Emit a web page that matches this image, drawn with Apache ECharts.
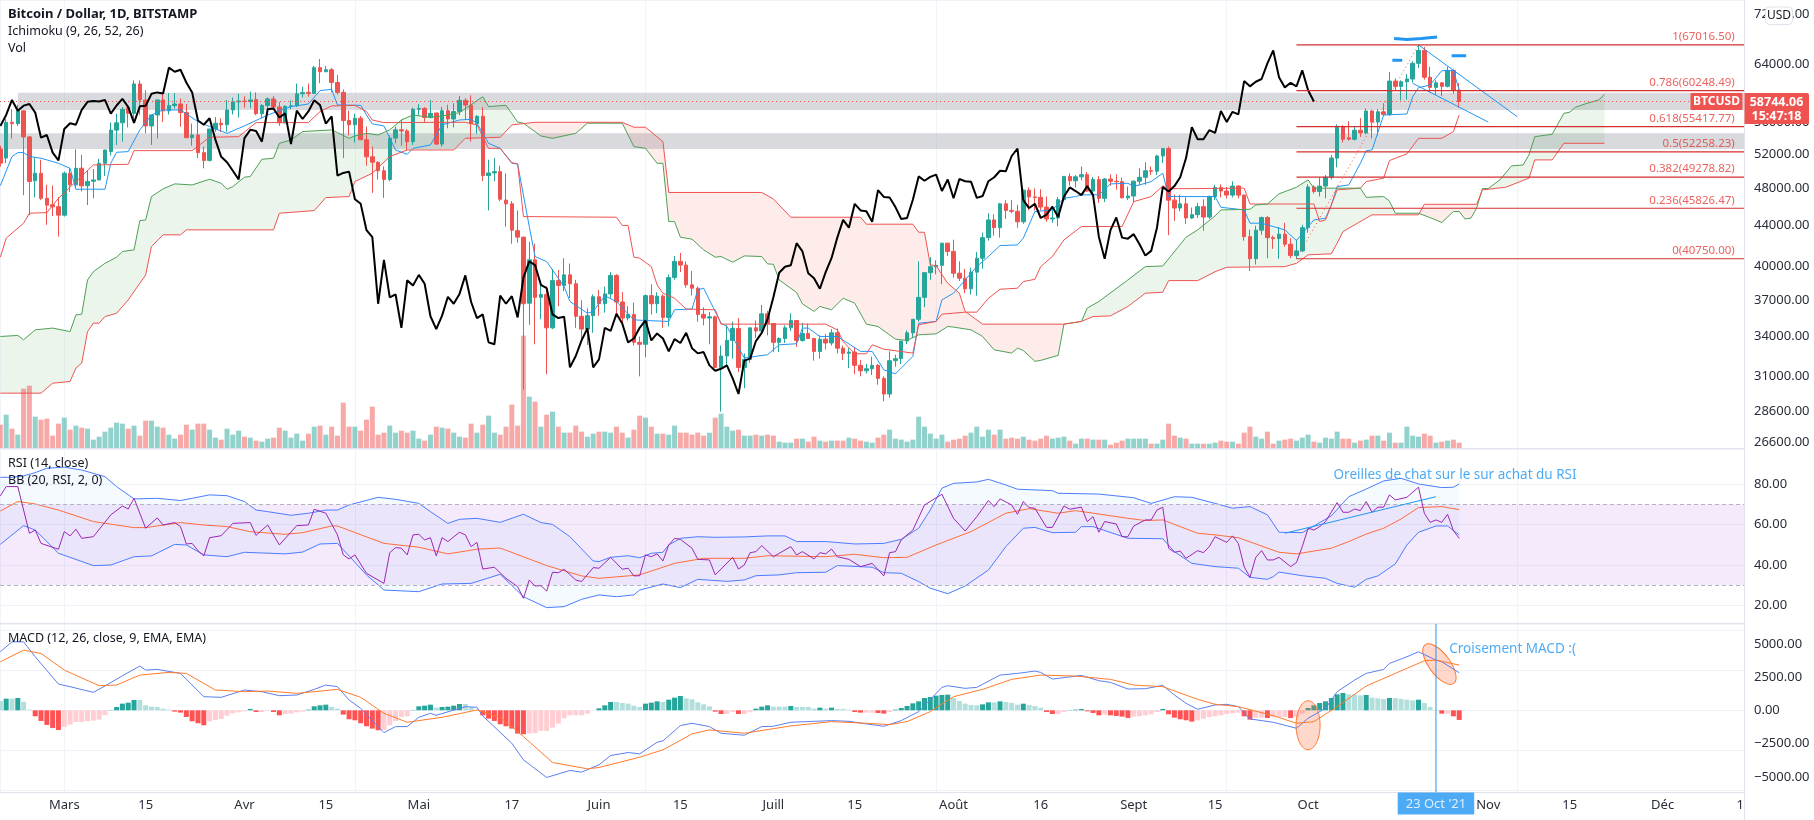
<!DOCTYPE html>
<html>
<head>
<meta charset="utf-8">
<title>BTCUSD</title>
<script src="https://cdn.jsdelivr.net/npm/echarts@6/dist/echarts.min.js"></script>
<style>
  html, body { margin: 0; padding: 0; background: #fff; }
  #chart { width: 1814px; height: 820px; }
</style>
</head>
<body>
<div id="chart"></div>
<script>
// days are counted from 1 Mar 2021, candles run from 18 Feb to 27 Oct
const firstDay = -11;
const opens = [
  52600,51500,55970,55800,57480,54100,48850,49700,46900,46200,46000,
  45100,49700,48400,50300,48300,48800,48950,50880,52300,54960,55900,57920,57150,61190,58950,55500,56930,58950,57480,58180,58400,57250,54000,54340,52150,51220,55100,55850,55650,57600,58700,
  58800,58750,59000,57100,58200,59100,58000,55900,58100,58150,59800,60000,59850,63550,62950,63250,61400,60000,56200,55650,56500,53750,51650,51000,50000,49000,53950,55000,54850,53500,
  57700,57800,56600,57200,53200,57500,56400,57400,58900,58250,55800,56750,49450,49750,49900,46700,46300,43500,42850,36750,40650,37250,37500,34700,38750,38300,39250,38450,35650,34600,35700,
  37300,36700,37550,39200,36850,35500,35800,33550,33400,37400,36700,37350,35550,39000,40500,40150,38350,38050,35800,35500,35600,31650,32500,33700,34650,31650,32250,34700,34450,35850,
  35050,33550,33850,34700,35300,33700,34250,33850,32850,33800,33500,34300,33100,32700,32800,31800,31400,31550,31800,30850,29750,32150,32300,33650,34300,35400,37250,39450,40000,40130,42250,
  41450,39400,38950,38000,39500,40800,42800,44600,43800,46300,45600,45500,44400,47800,47050,47000,45950,44700,44800,46750,49350,48850,49300,49550,47700,49000,46900,49050,48800,48750,46950,
  47150,48800,49250,50000,49950,51750,52650,46700,45850,46300,44800,45150,46000,44900,47100,48100,47700,47250,48250,47250,42900,40750,43550,44850,42800,42700,43150,42150,41050,41500,
  43800,48150,47650,48250,49250,51500,55350,54000,53800,54950,54600,57450,56000,57350,57000,61600,60850,61500,61900,64200,66150,62150,60700,61350,60850,63150,60300
];
const closes = [
  50900,55970,55800,57480,54100,48770,49720,46900,46170,45980,45100,
  49720,48390,50290,48280,48770,48950,50880,52480,54960,55900,57680,57150,61190,58950,55500,56930,58950,57480,58180,58400,57250,54000,54340,52150,51220,55100,55850,55650,57600,58700,58800,
  58750,58950,57100,58200,59100,58000,55900,58100,58150,59800,60000,59850,63550,62950,63250,61400,60000,56200,55650,56500,53750,51650,51000,50000,49000,53950,55000,54850,53500,57700,
  57800,56600,57150,53200,57500,56400,57400,58900,58250,55800,56750,49450,49750,49900,46800,46300,43550,42850,36700,40650,37250,37500,34700,38750,38300,39250,38450,35650,34600,35700,37300,
  36700,37550,39200,36850,35500,35800,33550,33400,37400,36700,37350,35550,39000,40500,40150,38350,38050,35800,35500,35600,31650,32500,33700,34650,31650,32250,34700,34450,35850,35050,
  33550,33850,34700,35300,33700,34250,33850,32850,33800,33500,34300,33100,32700,32800,31800,31400,31550,31800,30850,29750,32150,32300,33650,34300,35400,37250,39450,40000,40130,42250,41450,
  39400,38950,38000,39500,40800,42800,44600,43800,46300,45600,45500,44400,47800,47050,47000,45950,44700,44800,46750,49350,48850,49300,49550,47700,49000,46900,49050,48800,48750,46950,47150,
  48800,49250,50000,49950,51750,52650,46700,45850,46300,44800,45150,46000,44900,47100,48100,47700,47250,48250,47250,42900,40750,43550,44850,42800,42700,43150,42150,41050,41500,43800,
  48150,47650,48250,49250,51500,55350,53800,53800,54950,54600,57450,56000,57350,57000,61600,60850,61500,61900,64200,66150,62150,60700,61350,60850,63150,60300,58744
];
const lows = [
  50500,50900,53900,55500,47250,45100,47000,46700,44100,45000,42900,
  44950,47600,48000,47650,46170,46900,48900,49400,51800,53100,53500,55300,56100,56950,54550,53100,53900,56000,57000,57800,55400,53950,53000,51500,50290,51100,54750,54700,54750,57000,56600,
  57900,57850,56900,56500,57000,57700,55500,55800,57700,58000,59300,59400,59800,61300,62900,60000,59700,51500,54300,53400,53700,50600,47500,49000,46950,48800,53300,53000,52400,53100,
  56900,56000,56500,53100,52900,55200,55300,56900,56300,53500,54500,48800,45600,48800,46600,43900,42200,42300,30050,34950,33400,35400,31150,34600,36500,37800,37200,34700,33650,33350,34300,
  35700,35950,37200,35600,34900,35300,33300,31000,32400,35800,35900,34700,34800,38800,39500,38100,37400,35200,34900,33400,31600,28550,31700,32300,31300,30150,32000,33900,34200,34100,
  32800,32800,33500,34450,33200,33600,33800,32150,32300,33000,33300,32700,32200,31600,31150,31000,31200,31100,30400,29250,29500,31700,31900,33400,33900,35200,36400,38800,39300,38400,41000,
  39000,38700,37600,37500,37400,39800,42500,43000,42800,44700,45300,43800,44200,45600,45600,45600,44400,44300,43950,46600,48300,48100,48900,47600,47200,46400,46500,48300,47850,46900,46700,
  46500,48350,48400,49500,49500,50900,43050,44500,45500,44200,44700,44800,43500,44700,46700,47000,46900,47000,46900,42500,39600,40200,43100,40800,41700,40750,41900,40800,40800,41400,
  43300,47400,47100,46900,49000,50400,53400,53650,53650,54100,54400,53900,54300,56900,56800,60200,58900,59000,61400,63500,61800,60000,59700,59500,60700,59800,57900
];
const highs = [
  53000,56400,57700,58300,57500,54200,51550,51300,48400,48300,47050,
  49900,50300,52560,51900,50100,50200,51400,52500,55950,57100,58000,58100,61700,61700,60300,56950,59000,59900,59900,59900,59150,58400,55800,56710,52900,55100,56650,56500,58950,59300,59800,
  59450,60100,60000,58400,59300,59500,58650,58200,58900,61250,60800,61250,63800,64850,63800,63500,62500,60400,57500,57100,56800,55400,52900,51100,50500,54300,55400,56300,55100,57900,
  58400,58000,58950,57200,58000,58300,58500,59500,59200,59600,56900,58000,51300,51500,50600,49700,46600,45600,42900,42400,42200,38700,38200,39800,39700,40800,40300,38800,37000,36300,37500,
  37900,38200,39500,39300,37700,36500,36800,34000,37500,38400,37700,37500,39300,41000,41300,40500,39600,38200,36400,36000,35700,33300,34900,35200,35500,32700,34700,35300,36600,36100,
  35050,33950,34900,35900,35300,35100,35050,33900,34100,34200,34600,34650,33300,33100,33200,32200,31900,32450,31900,31000,32850,32600,33650,34500,35400,40500,39500,40900,40600,42300,42300,
  42600,40500,39800,39900,41400,43300,45300,45200,46400,46700,46700,46200,47850,48100,48000,47900,47100,46000,47050,49400,49700,49500,50500,49850,49300,49400,49150,49600,49600,49200,48200,
  48900,50300,51000,50500,51900,52700,52900,47300,47300,47000,45900,46400,46800,47200,48400,48450,48150,48800,48350,47300,43600,44000,44950,45000,43000,43900,44300,42750,42600,44100,
  48450,48350,49250,49500,51850,55700,55600,56100,55450,56500,57800,57650,57700,58500,62900,62000,61700,62600,64500,67016,66700,63700,61700,61450,63700,63300,61300
];
const volumes = [
  70,100,58,40,178,187,94,85,88,37,73,
  91,55,67,61,58,25,34,49,61,76,73,58,67,37,82,82,64,61,40,28,40,70,55,73,73,55,31,25,58,40,52,
  34,31,22,19,28,31,61,52,31,43,22,43,64,67,40,64,37,136,64,64,52,85,124,40,46,67,46,52,46,52,
  28,22,40,64,61,58,46,34,31,73,46,70,97,46,40,64,130,67,337,154,139,64,100,109,64,46,46,67,49,34,43,
  49,49,46,64,46,31,55,97,91,64,43,43,40,67,46,46,40,46,37,46,91,103,64,52,55,37,37,40,37,40,
  37,19,16,16,28,28,19,34,22,19,22,22,22,31,28,22,19,16,31,40,55,28,25,19,25,94,64,43,28,40,19,
  25,28,37,46,64,34,55,40,55,28,31,28,34,25,22,28,37,28,31,34,22,13,28,28,25,25,25,10,16,22,28,
  28,28,28,13,13,25,73,37,31,28,13,13,13,13,16,22,19,19,13,46,64,34,28,49,13,22,25,28,22,31,
  40,19,16,31,28,49,28,28,16,22,25,37,37,22,46,16,16,64,37,34,43,37,16,19,22,25,16
];
const macdHist = [
  700,875,875,925,650,50,-450,-800,-1100,-1325,-1475,
  -1250,-1075,-875,-875,-825,-775,-700,-350,25,250,500,575,775,775,375,275,250,125,50,-100,-175,-500,-825,-975,-1125,-825,-725,-650,-400,-225,-150,
  -75,100,-125,-125,-50,-125,-375,-275,-250,-150,-100,50,300,375,425,250,125,-325,-675,-750,-975,-1200,-1375,-1500,-1475,-1125,-800,-500,-450,25,
  300,350,425,200,250,275,350,475,475,225,25,-375,-625,-800,-1050,-1200,-1375,-1750,-1800,-1750,-1725,-1550,-1550,-1300,-1000,-600,-375,-375,-375,-250,0,
  150,375,625,625,550,500,350,250,500,575,675,625,800,950,1075,900,825,600,450,300,-100,-275,-275,-125,-275,-275,-150,125,275,375,
  275,275,275,325,250,250,250,125,200,125,200,100,100,50,-125,-175,-175,-175,-200,-250,-125,50,175,325,525,675,925,1000,1100,1150,1175,
  925,700,500,400,375,450,600,600,675,625,550,425,500,400,325,200,-125,-275,-275,-125,25,50,100,-75,-200,-375,-325,-375,-425,-475,-575,
  -475,-450,-375,-300,-125,100,-300,-550,-675,-750,-850,-750,-625,-500,-450,-375,-275,-225,-175,-450,-700,-550,-550,-575,-525,-525,-500,-575,-500,-250,
  175,375,550,675,925,1200,1300,1200,1200,1125,1150,950,900,850,925,925,850,800,750,800,550,250,25,-250,-250,-450,-725
];

// ichimoku lines, [day, price] at their visible corners
const tenkan = [[-11,48300],[-9,51680],[-8,52160],[-7,52160],[-6,51680],[-4,51480],[-1,50880],[1,50290],[2,47900],[7,47900],[8,50880],[9,52200],[11,52280],[13,54990],[15,56930],[17,57600],[20,57600],[23,56050],[25,55420],[28,54550],[31,55500],[35,56930],[39,58050],[42,58400],[44,60250],[46,60430],[47,58270],[51,58220],[52,56930],[53,55760],[55,55500],[57,52480],[59,51950],[60,52680],[63,53100],[65,55630],[68,56270],[70,56360],[71,55850],[73,53300],[75,52680],[77,50880],[78,50800],[80,43920],[81,40960],[83,40480],[86,38190],[87,36890],[90,35900],[91,36050],[93,37380],[95,36890],[98,35350],[100,35300],[104,35220],[105,36190],[108,36250],[109,37900],[110,38050],[111,37030],[113,35080],[114,34810],[117,32350],[121,32600],[123,33360],[126,33440],[127,34680],[128,34680],[130,34010],[133,34010],[137,32850],[139,32850],[141,31470],[143,31180],[146,32470],[147,35080],[150,35220],[151,37030],[153,37610],[154,38190],[157,40010],[159,40960],[161,42020],[164,42080],[165,42750],[167,45480],[170,45650],[172,46900],[174,47090],[175,47280],[178,47280],[180,48500],[183,48570],[184,48200],[187,48760],[189,49720],[190,47090],[198,47090],[199,45930],[203,45650],[204,44260],[206,44260],[210,43580],[212,42510],[214,43920],[215,44600],[217,44780],[218,46180],[219,48200],[221,48380],[223,50880],[224,52400],[225,52480],[227,56930],[231,57060],[232,59400],[233,60660],[235,61040],[237,63110],[239,63110],[240,60330]];
const kijun = [[-11,40900],[-10,42750],[-7,44260],[-6,45300],[-3,45370],[-1,46900],[5,50680],[11,50760],[12,52400],[22,52400],[25,54050],[30,54130],[33,55930],[42,55930],[44,57380],[46,58140],[50,58220],[52,57380],[53,56270],[55,55930],[69,55970],[71,55630],[73,52680],[75,52680],[77,50960],[78,50800],[79,44950],[95,44880],[96,44030],[97,44030],[98,40900],[99,40800],[101,40010],[102,38340],[103,37610],[105,37170],[107,36250],[112,36190],[113,35000],[131,35000],[133,34540],[134,33620],[136,32670],[138,32670],[139,33360],[141,33020],[146,32720],[147,34950],[150,35220],[151,35820],[155,35990],[157,35990],[159,37170],[161,37960],[164,38050],[165,38640],[167,38850],[168,40010],[170,40960],[172,42580],[175,43920],[182,43920],[184,46540],[187,47090],[189,48270],[190,47950],[203,48020],[204,46280],[215,46280],[216,44430],[217,44600],[219,47830],[223,48020],[224,48760],[227,49150],[228,51200],[229,51480],[231,52000],[233,53920],[237,53920],[239,54770],[240,56930]];
const senkouA = [[-11,34010],[-8,34090],[-7,33750],[-5,34540],[-2,34680],[1,34400],[2,35760],[3,35820],[4,38790],[5,39540],[7,40320],[9,40900],[10,41440],[12,41600],[13,44530],[14,44600],[15,47090],[17,47940],[19,48500],[22,48380],[25,49030],[27,48570],[28,47900],[29,48200],[31,49260],[32,49340],[34,51360],[36,51480],[37,53300],[39,53720],[41,54770],[46,54990],[47,54640],[49,53920],[50,54220],[52,54550],[54,54340],[56,54990],[58,56270],[60,56930],[63,56620],[65,56800],[68,57240],[72,59400],[73,58050],[76,58220],[78,56010],[79,55850],[82,54220],[84,53920],[88,54550],[90,55850],[96,55850],[98,52890],[100,52680],[102,50880],[103,50880],[104,44430],[105,44430],[106,42840],[108,42650],[110,41600],[112,40900],[113,40960],[115,40420],[117,41020],[120,40960],[121,40260],[122,40230],[123,38790],[126,37670],[127,36690],[129,36050],[130,36470],[132,36190],[134,37170],[136,36750],[138,35000],[140,34810],[143,33800],[145,33700],[147,34140],[150,34220],[152,34810],[153,34760],[156,34540],[158,34010],[160,32970],[163,32720],[164,33100],[165,32920],[167,32100],[168,32170],[171,32550],[172,35000],[175,35220],[176,36330],[178,36890],[183,38790],[186,40010],[189,40070],[193,42840],[195,43580],[198,45020],[199,45650],[204,45720],[205,46180],[207,46280],[209,47390],[212,48120],[214,48950],[215,48020],[223,48020],[224,47010],[227,47090],[228,46610],[229,45300],[233,45300],[236,44600],[237,44330],[239,45480],[240,45480],[241,44700],[242,44780],[243,45830],[244,47980],[245,47980],[247,48950],[249,50570],[251,50680],[252,51880],[253,54130],[256,54430],[258,57150],[259,57290],[260,57960],[262,58500],[264,58950],[265,59720]];
const senkouB = [[-11,29810],[-4,29810],[-2,30510],[1,30630],[2,31600],[3,31970],[4,34400],[5,35080],[6,35080],[7,35620],[9,35900],[11,37030],[14,39240],[15,41920],[17,43080],[20,43080],[21,43580],[36,43580],[37,45300],[43,45580],[45,46980],[49,47090],[50,48760],[53,49720],[56,51680],[59,52480],[67,52480],[69,53920],[75,54050],[77,55630],[81,55970],[96,55970],[98,55330],[100,55330],[103,53510],[104,47540],[120,47540],[122,46830],[125,44880],[137,44880],[138,44160],[146,44160],[147,43340],[148,43340],[149,40170],[150,40100],[152,38490],[154,37610],[155,36050],[158,35000],[172,35000],[175,35220],[177,35620],[180,35680],[183,36470],[186,37610],[189,37700],[190,38730],[195,38730],[198,39540],[200,39950],[210,40010],[212,40320],[214,41120],[218,41220],[219,42250],[220,43410],[222,44090],[225,45130],[233,45130],[234,46250],[243,46250],[244,47830],[248,48120],[252,49150],[253,51280],[256,51280],[258,53300],[265,53300]];
const cloudSpans = [[-11,79,'up'],[79,172,'down'],[172,233,'up'],[233,244,'down'],[244,265,'up']];

// rsi pane
const rsiLine = [[-11,74.1],[-10,78.7],[-8,78.7],[-6,55.6],[-5,57.2],[-4,50.6],[-1,47.7],[0,56.4],[1,54.3],[2,57.6],[3,53.1],[5,53.9],[8,64.7],[10,69.1],[11,67.6],[12,72.9],[14,58.1],[16,63.2],[17,59.7],[19,60.9],[20,58.9],[21,50.3],[22,50.6],[23,47],[24,44.4],[25,53.4],[27,54.4],[29,60.5],[32,60.9],[33,54.6],[35,59.7],[37,49.8],[40,59.4],[42,59.7],[43,67.5],[45,65.5],[47,54.8],[48,44.9],[49,42.9],[50,44.9],[52,35.8],[55,30.8],[56,46],[57,48.5],[58,48.2],[59,44.9],[60,54.8],[61,55.1],[62,52.3],[63,53.4],[64,44.4],[65,53.4],[66,51.5],[68,56.1],[69,54.8],[70,49],[71,51.1],[72,37.9],[74,38.8],[76,33.3],[78,29.2],[79,23.4],[80,32.5],[81,29.5],[82,29.7],[83,27],[84,36.3],[85,36.1],[86,37.8],[88,32.5],[89,31.7],[91,38.6],[92,38.3],[94,43.7],[96,37.8],[97,38.3],[98,34.5],[99,34.6],[100,44.9],[101,44],[102,45.4],[103,41.9],[104,49.8],[105,53.1],[106,52.6],[108,48.2],[109,42.7],[111,42.4],[112,35],[115,43.7],[116,37.9],[117,39.9],[118,46],[119,46.5],[120,49.5],[122,44],[125,49],[126,44.9],[127,46.5],[129,42.9],[130,46],[131,45.4],[132,47.8],[133,44],[135,42.7],[137,39.1],[139,40.7],[141,34.5],[142,46],[143,46.5],[144,52.3],[146,57.2],[148,69.6],[151,74.9],[153,63],[155,56.7],[157,63.8],[159,71.8],[160,68.8],[161,72.6],[163,69.6],[164,65],[165,71.3],[166,68.3],[167,68],[169,58.5],[170,58.5],[172,69.1],[173,67.5],[175,68.5],[176,61.4],[177,63.8],[178,56.1],[179,61.4],[181,60.2],[182,53.9],[183,53.9],[184,59.2],[186,62.2],[187,62.2],[188,67.1],[189,68.5],[190,48.2],[191,46.2],[192,46.8],[193,43.2],[195,47],[196,46],[197,49],[198,53.9],[200,51.1],[201,54.3],[202,50.6],[203,39.1],[204,33.8],[205,43.7],[206,47],[207,42.4],[208,42.4],[209,43.7],[211,39.1],[212,41.1],[213,49],[214,58.1],[215,57.2],[216,58.9],[217,61.4],[219,70.8],[220,66],[221,66],[222,67.6],[223,66.8],[224,71.3],[225,66],[226,68.5],[227,68.5],[228,74.6],[229,72.1],[231,73.4],[233,78.4],[234,65.5],[235,61],[236,62.2],[237,61],[238,65],[239,56.9],[240,53.1]];
const bbUpper = [[-11,83.3],[-9,83.3],[-7,84],[-5,85.6],[-3,87.8],[0,88.3],[3,86.9],[7,83.6],[9,78.7],[12,72.6],[16,72.9],[20,71.8],[22,72.9],[25,74.6],[28,74.2],[31,71.3],[33,67.1],[35,66.3],[39,64.5],[42,65.5],[45,67.1],[47,67.1],[49,69.6],[54,73.4],[57,72.4],[61,70.4],[63,66.3],[66,60.5],[68,62.5],[71,63],[75,61],[79,65],[82,60.9],[84,60],[87,53.9],[91,41.9],[92,41.6],[94,43.7],[97,44.5],[99,43.5],[101,45.7],[103,46.2],[104,49.8],[106,53.1],[109,53.9],[112,53.6],[117,53.8],[121,54.3],[124,54.3],[126,51.5],[131,51.5],[136,50.3],[141,50.6],[144,52.6],[147,58.1],[149,67.1],[151,77.9],[153,80.3],[157,81],[159,82.3],[162,79.5],[164,77.4],[170,76.7],[171,75.4],[178,75],[184,73.2],[187,70.4],[191,73.7],[194,73.4],[198,70.4],[201,68],[204,68.8],[207,64.7],[208,60.5],[209,56.1],[213,55.9],[218,64.2],[221,73.7],[224,77.5],[227,81.5],[230,82.8],[233,80],[237,78.2],[239,78.4],[240,80]];
const bbLower = [[-11,50.1],[-7,59.4],[-5,57.2],[-1,45.7],[5,39.6],[8,39.9],[12,44],[15,44.4],[19,50.1],[21,49.8],[24,44.9],[28,44],[31,46.2],[38,45.4],[41,46.3],[44,50.3],[47,50.6],[52,35],[55,27.5],[61,26.7],[65,30.5],[70,30.8],[75,35.3],[79,24.2],[83,18.8],[86,19.3],[89,22.9],[92,25.1],[95,24.2],[98,25.1],[99,27.5],[103,30.5],[106,28.7],[109,32.8],[114,31.8],[117,32.5],[119,34.6],[123,35],[126,36.1],[131,36.3],[133,39.6],[139,38.8],[141,36.1],[144,35.8],[147,31.7],[149,28.4],[152,25.7],[155,29.5],[159,37.4],[162,49],[165,58.1],[167,58.5],[170,55.9],[174,56.1],[175,58.9],[177,58.9],[183,53.1],[189,52.9],[191,46.5],[194,40.7],[198,39.1],[202,38.3],[204,33.8],[207,32.8],[208,34.1],[209,36.4],[213,34.6],[217,33.3],[219,30.8],[222,28.9],[224,32.8],[226,34.5],[229,40.4],[231,49.8],[233,56.1],[236,59.2],[238,59.2],[240,54.8]];
const bbBasis = [[-11,66.6],[-8,71.3],[-5,70.1],[-1,67.1],[5,61.4],[12,58.4],[14,58.4],[20,60.9],[24,59.7],[28,58.9],[32,56.4],[38,55.1],[41,55.9],[46,59.2],[47,59.2],[55,50.6],[61,48.7],[66,45.4],[71,47.7],[75,48.3],[83,39.6],[89,34.5],[92,33.3],[99,35],[105,40.7],[110,43.2],[117,43.2],[121,44.5],[131,44],[136,45.2],[141,43.5],[145,43.7],[150,49.8],[156,56.4],[162,65.5],[166,67.8],[171,65.5],[174,66.8],[183,63],[186,61.9],[189,62.2],[195,55.6],[198,54.8],[202,53.4],[209,46.2],[212,45.4],[218,48.2],[221,51.5],[224,55.2],[227,58.1],[230,62.7],[233,68.3],[237,68.8],[240,67.3]];

// macd pane
const macdLine = [[-11,4400],[-9,5150],[-7,5150],[-5,4025],[-1,1975],[1,1775],[5,1350],[7,1825],[10,2600],[13,3325],[14,3025],[16,3075],[20,2775],[24,1025],[27,975],[31,1525],[34,1400],[37,1100],[40,1150],[43,1575],[45,1900],[47,1775],[49,775],[51,150],[55,-1675],[57,-1225],[59,-1225],[61,-525],[63,-225],[64,-375],[69,275],[71,225],[72,-425],[77,-2475],[79,-3725],[83,-5050],[87,-4525],[89,-4650],[92,-4100],[94,-3400],[97,-3175],[99,-3275],[102,-2400],[103,-2300],[106,-1150],[108,-975],[111,-1225],[113,-1725],[117,-1875],[120,-1225],[122,-1200],[125,-900],[132,-775],[135,-825],[138,-1025],[141,-1200],[144,-775],[147,-100],[151,1725],[152,1850],[155,1650],[157,1725],[161,2650],[164,2775],[167,2950],[168,2850],[170,2350],[175,2625],[178,2225],[180,2100],[183,1600],[186,1625],[189,1875],[191,1150],[193,525],[195,75],[198,400],[200,450],[202,275],[204,-650],[208,-900],[212,-1350],[214,-600],[217,150],[219,1400],[222,2275],[224,2775],[227,3075],[228,3525],[231,4025],[233,4400],[236,3775],[237,3650],[240,2825]];
const macdSignal = [[-11,3650],[-7,4525],[-4,4275],[0,3025],[6,1850],[9,1900],[13,2650],[18,2850],[21,2775],[26,1525],[31,1400],[35,1450],[40,1275],[47,1575],[51,975],[55,-225],[59,-900],[65,-525],[71,25],[75,-525],[79,-1975],[84,-3925],[90,-4400],[92,-4300],[99,-3525],[103,-2975],[108,-1775],[111,-1475],[117,-1725],[125,-1175],[132,-850],[138,-975],[142,-1075],[145,-850],[149,-100],[153,1025],[158,1575],[163,2325],[168,2650],[174,2575],[180,2325],[184,1900],[189,1775],[195,825],[198,450],[202,275],[208,-400],[212,-975],[215,-850],[219,275],[224,1825],[229,2775],[234,3725],[236,3775],[240,3400]];

// axis ticks
const priceTicks = [72000,64000,56000,52000,48000,44000,40000,37000,34000,31000,28600,26600];
const rsiTicks = [80,60,40,20];
const macdTicks = [5000,2500,0,-2500,-5000];
const gridDays = [0,14,31,45,61,77,92,106,122,136,153,168,184,198,214,231,245,259,275,289];
const labelDays = [0,14,31,45,61,77,92,106,122,136,153,168,184,198,214,245,259,275,289];
const labelNames = ['Mars','15','Avr','15','Mai','17','Juin','15','Juill','15','Août','16','Sept','15','Oct','Nov','15','Déc','15'];

// drawings on the chart
const lastPrice = 58744.06;
const fibStart = 212;
const fibLevels = [67016.5,60248.49,55417.77,52258.23,49278.82,45826.47,40750];
const fibNames = ['1(67016.50)','0.786(60248.49)','0.618(55417.77)','0.5(52258.23)','0.382(49278.82)','0.236(45826.47)','0(40750.00)'];
const fibTrend = [[212,40750],[233,67016]];
const wedgeTop = [[233,67000],[250,56700]];
const wedgeBottom = [[232,61280],[245,56000]];
const brushTop = [[228.8,68000],[231,67840],[233.5,68000],[236.2,68260]];
const brushLeft = [[228.5,64650],[230.2,64650]];
const brushRight = [[238.7,65350],[241.2,65350]];
const rsiTrend = [[210,55.6],[236,73.7]];
const supportZones = [[-8,59950,57600],[-11.06,54550,52600]];
const macdEllipses = [[214,-1125],[236.6,3475]];

const xMin = -11.06, xMax = 289;
const green = '#26a69a', red = '#ef5350';
const textColor = '#2a2e39';
const days = opens.map((o, i) => firstDay + i);
const chikou = closes.slice(25).map((c, i) => [days[i], c]);
const fontFamily = '"Noto Sans", sans-serif';

const lineSeries = (name, data, color, pane, width, z, type) => ({
  name, type: 'line', xAxisIndex: pane, yAxisIndex: pane, data,
  symbol: 'none', silent: true, z: z || 4,
  lineStyle: { color, width: width || 1, type: type || 'solid' }
});

const textSeries = (text, point, pane, label) => ({
  type: 'scatter', xAxisIndex: pane, yAxisIndex: pane, data: [point],
  symbolSize: 1, itemStyle: { color: 'transparent' }, silent: true, z: 9,
  label: Object.assign({ show: true, formatter: text, position: 'right', distance: 0, fontFamily, fontSize: 13.5, color: '#2196f3' }, label)
});

// fill between two lines over day spans
const bandSeries = (spans, upper, lower, pane, z) => ({
  type: 'custom', xAxisIndex: pane, yAxisIndex: pane, silent: true, z,
  data: spans.map(s => [s.from, upper[0][1]]),
  renderItem: (params, api) => {
    const s = spans[params.dataIndex];
    const inSpan = p => p[0] >= s.from && p[0] <= s.to;
    const points = upper.filter(inSpan).concat(lower.filter(inSpan).reverse()).map(p => api.coord(p));
    return { type: 'polygon', shape: { points }, style: { fill: s.color } };
  }
});

const cloud = cloudSpans.map(s => ({ from: s[0], to: s[1], color: s[2] === 'up' ? 'rgba(67,160,71,0.1)' : 'rgba(244,67,54,0.1)' }));

const axisLine = { show: true, onZero: false, lineStyle: { color: '#e0e3eb' } };
const gridLine = { show: true, lineStyle: { color: '#f0f3fa', width: 1 } };
const xAxisFor = (gridIndex, show) => ({
  type: 'value', gridIndex, min: xMin, max: xMax, axisLine,
  axisTick: { show: false },
  splitLine: Object.assign({ customValues: gridDays }, gridLine),
  axisLabel: show ? {
    customValues: labelDays, margin: 7, fontFamily, fontSize: 13, color: textColor,
    formatter: d => labelNames[labelDays.indexOf(d)], hideOverlap: false, showMinLabel: true, showMaxLabel: true
  } : { show: false }
});
const yLabel = (ticks, format) => ({
  customValues: ticks, margin: 10, fontFamily, fontSize: 13, color: textColor, formatter: format,
  showMinLabel: true, showMaxLabel: true, hideOverlap: false
});
const yAxisFor = (gridIndex, ticks, min, max, type) => ({
  type, gridIndex, min, max, position: 'right', axisLine,
  axisTick: { show: false },
  splitLine: Object.assign({ customValues: ticks }, gridLine),
  axisLabel: yLabel(ticks, v => v.toFixed(2).replace('-', '\u2212'))
});

const legendText = (text, y, weight, size) => ({
  type: 'text', left: 8, top: y - 9, z: 50, silent: true,
  style: { text, fontFamily, fontSize: size || 12.5, fontWeight: weight || 'normal', fill: '#131722' }
});

const series = [
  bandSeries(cloud, senkouA, senkouB, 0, 1),
  {
    type: 'line', xAxisIndex: 0, yAxisIndex: 0, data: [], silent: true, z: 2,
    markLine: {
      silent: true, symbol: 'none', label: { show: false },
      lineStyle: { color: red, type: [1, 3], width: 1 },
      data: [{ yAxis: lastPrice }]
    },
    markArea: {
      silent: true, itemStyle: { color: 'rgba(178,181,190,0.5)' },
      data: supportZones.map(z => [{ xAxis: z[0], yAxis: z[1] }, { xAxis: xMax, yAxis: z[2] }])
    }
  },
  {
    name: 'Vol', type: 'bar', xAxisIndex: 0, yAxisIndex: 3, barWidth: 5, silent: true, z: 2,
    data: days.map((d, i) => [d, volumes[i]]),
    itemStyle: { color: p => closes[p.dataIndex] >= opens[p.dataIndex] ? 'rgba(38,166,154,0.5)' : 'rgba(239,83,80,0.5)' }
  },
  {
    name: 'BTCUSD', type: 'candlestick', xAxisIndex: 0, yAxisIndex: 0, barWidth: 4, silent: true, z: 3,
    data: days.map((d, i) => [d, opens[i], closes[i], lows[i], highs[i]]),
    itemStyle: { color: green, color0: red, borderColor: green, borderColor0: red, borderWidth: 1 }
  },
  lineSeries('Tenkan', tenkan, '#2196f3', 0),
  lineSeries('Kijun', kijun, red, 0),
  lineSeries('Senkou A', senkouA, '#4ea055', 0),
  lineSeries('Senkou B', senkouB, red, 0),
  lineSeries('Chikou', chikou, '#000', 0, 2, 5),
  lineSeries('Fib trend', fibTrend, red, 0, 1, 6, [1, 3]),
  lineSeries('Wedge top', wedgeTop, '#2196f3', 0, 1, 6),
  lineSeries('Wedge bottom', wedgeBottom, '#2196f3', 0, 1, 6),
  lineSeries('Brush top', brushTop, '#2196f3', 0, 3, 6),
  lineSeries('Brush left', brushLeft, '#2196f3', 0, 3, 6),
  lineSeries('Brush right', brushRight, '#2196f3', 0, 3, 6)
];

fibLevels.forEach((level, i) => {
  series.push(lineSeries('Fib ' + fibNames[i], [[fibStart, level], [xMax, level]], '#d32f2f', 0, 1.2, 6));
  series.push(textSeries(fibNames[i], [287.5, level], 0, { position: 'left', offset: [0, -8], color: '#e53935', fontSize: 11.5 }));
});

series.push(
  {
    type: 'line', xAxisIndex: 1, yAxisIndex: 1, data: [], silent: true, z: 1,
    markArea: {
      silent: true, itemStyle: { color: 'rgba(156,39,226,0.1)' },
      data: [[{ xAxis: xMin, yAxis: 70 }, { xAxis: xMax, yAxis: 30 }]]
    },
    markLine: {
      silent: true, symbol: 'none', label: { show: false },
      lineStyle: { color: '#b2b5be', type: [4, 3], width: 1 },
      data: [{ yAxis: 70 }, { yAxis: 30 }]
    }
  },
  bandSeries([{ from: -11, to: 240, color: 'rgba(33,150,243,0.05)' }], bbUpper, bbLower, 1, 2),
  lineSeries('BB upper', bbUpper, '#4a7dff', 1),
  lineSeries('BB lower', bbLower, '#4a7dff', 1),
  lineSeries('BB basis', bbBasis, '#ff6d3a', 1),
  lineSeries('RSI', rsiLine, '#9c27b0', 1, 1, 5),
  lineSeries('RSI trend', rsiTrend, '#2196f3', 1, 1, 6),
  textSeries('Oreilles de chat sur le sur achat du RSI', [218.3, 84.5], 1),
  {
    name: 'Histogram', type: 'bar', xAxisIndex: 2, yAxisIndex: 2, barWidth: 5, silent: true, z: 2,
    data: days.map((d, i) => [d, macdHist[i]]),
    itemStyle: {
      color: p => {
        const v = macdHist[p.dataIndex], prev = macdHist[p.dataIndex - 1];
        if (v >= 0) return v > prev ? green : '#b2dfdb';
        return v < prev ? '#ff5252' : '#ffcdd2';
      }
    }
  },
  {
    type: 'custom', xAxisIndex: 2, yAxisIndex: 2, silent: true, z: 3,
    data: macdEllipses,
    renderItem: (params, api) => {
      const c = api.coord([api.value(0), api.value(1)]);
      const tilted = params.dataIndex === 1;
      return {
        type: 'ellipse', x: c[0], y: c[1], rotation: tilted ? 0.64 : 0,
        shape: { cx: 0, cy: 0, rx: tilted ? 10.5 : 12, ry: tilted ? 24 : 24.5 },
        style: { fill: 'rgba(255,112,67,0.28)', stroke: '#ff7a2e', lineWidth: 1 }
      };
    }
  },
  lineSeries('MACD', macdLine, '#5b7ff0', 2, 1, 4),
  lineSeries('Signal', macdSignal, '#ff7b2c', 2, 1, 4),
  lineSeries('Crosshair', [[236, -6143], [236, 6490]], '#2196f3', 2, 1, 6),
  textSeries('Croisement MACD :(', [238.2, 4586], 2),
  textSeries("23 Oct '21", [236, -6143], 2, {
    position: 'bottom', color: '#fff', fontSize: 13, backgroundColor: '#2196f3', padding: [5, 8, 4, 8]
  })
);

const option = {
  animation: false,
  backgroundColor: '#fff',
  textStyle: { fontFamily },
  grid: [
    { left: 0, top: 0, width: 1744, height: 448 },
    { left: 0, top: 449, width: 1744, height: 174 },
    { left: 0, top: 624, width: 1744, height: 168 }
  ],
  xAxis: [xAxisFor(0, false), xAxisFor(1, false), xAxisFor(2, true)],
  yAxis: [
    yAxisFor(0, priceTicks, 26240, 74383, 'log'),
    yAxisFor(1, rsiTicks, 11.2, 97.3, 'value'),
    yAxisFor(2, macdTicks, -6143, 6490, 'value'),
    { type: 'value', gridIndex: 0, min: 0, max: 1344, show: false }
  ],
  series,
  graphic: [
    legendText('Bitcoin / Dollar, 1D, BITSTAMP', 16.5, 'bold', 13),
    legendText('Ichimoku (9, 26, 52, 26)', 33.5),
    legendText('Vol', 50.5),
    legendText('RSI (14, close)', 465.5),
    legendText('BB (20, RSI, 2, 0)', 482.5),
    legendText('MACD (12, 26, close, 9, EMA, EMA)', 640.5),
    { type: 'rect', z: 40, silent: true, shape: { x: 1745, y: 793, width: 69, height: 27 }, style: { fill: '#fff' } },
    { type: 'line', z: 41, silent: true, shape: { x1: 1744.5, y1: 792, x2: 1744.5, y2: 820 }, style: { stroke: '#e0e3eb' } },
    { type: 'rect', z: 50, silent: true, shape: { x: 1765.5, y: 7, width: 27, height: 17.5, r: 4 }, style: { fill: '#fff', stroke: '#e0e3eb' } },
    { type: 'text', z: 51, silent: true, x: 1779, y: 16, style: { text: 'USD', fontFamily, fontSize: 12, fill: '#131722', align: 'center', verticalAlign: 'middle' } },
    { type: 'rect', z: 50, silent: true, shape: { x: 1690.5, y: 93, width: 52, height: 17, r: 1 }, style: { fill: red } },
    { type: 'text', z: 51, silent: true, x: 1716.5, y: 102, style: { text: 'BTCUSD', fontFamily, fontSize: 12, fontWeight: 'bold', fill: '#fff', align: 'center', verticalAlign: 'middle' } },
    { type: 'rect', z: 50, silent: true, shape: { x: 1744.5, y: 93, width: 64.5, height: 31, r: [0, 2, 2, 0] }, style: { fill: red } },
    { type: 'text', z: 51, silent: true, x: 1776.5, y: 102, style: { text: '58744.06', fontFamily, fontSize: 12.5, fontWeight: 'bold', fill: '#fff', align: 'center', verticalAlign: 'middle' } },
    { type: 'text', z: 51, silent: true, x: 1776.5, y: 116, style: { text: '15:47:18', fontFamily, fontSize: 12.5, fontWeight: 'bold', fill: '#fff', align: 'center', verticalAlign: 'middle' } }
  ]
};

const chart = echarts.init(document.getElementById('chart'));
chart.setOption(option);
</script>
</body>
</html>
